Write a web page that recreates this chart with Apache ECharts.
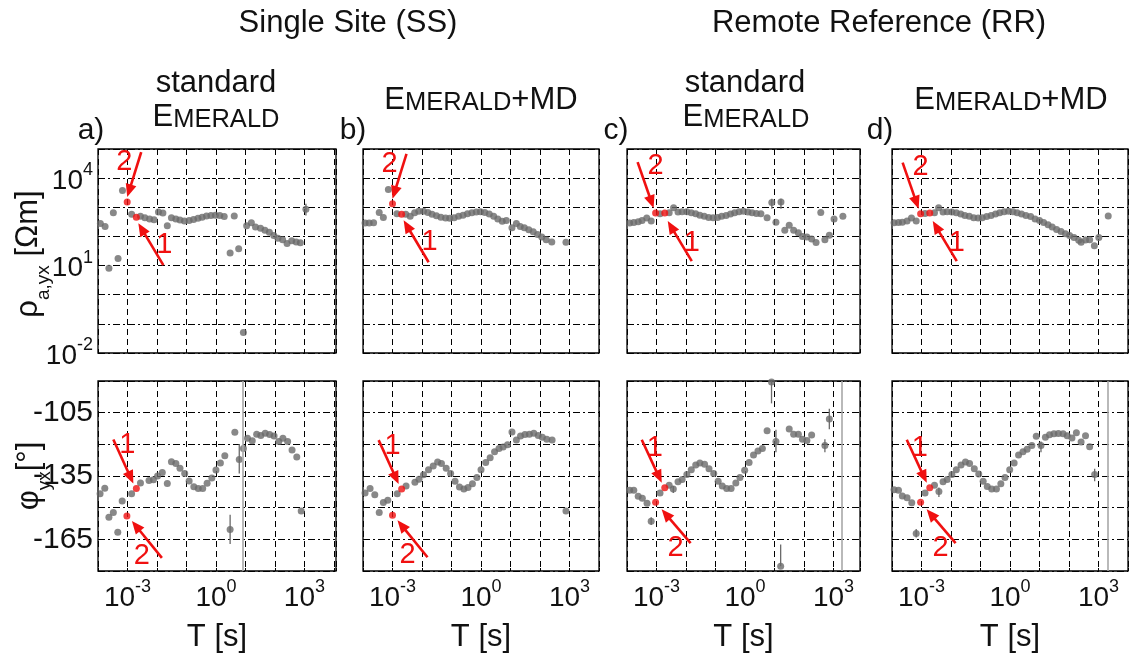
<!DOCTYPE html>
<html><head><meta charset="utf-8">
<script src="https://cdn.jsdelivr.net/npm/echarts@6/dist/echarts.min.js"></script>
<style>html,body{margin:0;padding:0;background:#fff}#c{width:1131px;height:654px}</style>
</head><body><div id="c"></div>
<script>
// ---------------- DATA (log10 T [s], log10 rho [Ohm m], phase [deg]) ----------------
// Panel a: Single Site, standard EMERALD
const aRhoT = [-3.92,-3.76,-3.63,-3.48,-3.32,-3.17,-2.86,-2.56,-2.41,-2.25,-2.10,-1.95,-1.80,-1.65,-1.51,-1.36,-1.22,-1.07,-0.91,-0.76,-0.61,-0.47,-0.32,-0.17,-0.02,0.13,0.28,0.48,0.62,0.77,0.93,1.04,1.20,1.34,1.51,1.66,1.81,1.96,2.10,2.26,2.41,2.57,2.72,2.86,3.05];
const aRho  = [2.44,2.34,0.91,2.81,1.24,3.58,2.76,2.69,2.64,2.60,2.57,2.84,2.80,2.37,2.64,2.60,2.56,2.53,2.55,2.58,2.62,2.66,2.70,2.72,2.73,2.72,2.68,1.43,2.70,1.58,-1.30,2.37,2.47,2.32,2.28,2.21,2.14,2.03,1.94,1.89,1.76,1.85,1.81,1.78,2.93];
const aPhiT = [-3.93,-3.77,-3.63,-3.48,-3.33,-3.18,-2.86,-2.56,-2.27,-2.12,-1.98,-1.82,-1.65,-1.51,-1.36,-1.22,-1.06,-0.91,-0.75,-0.60,-0.45,-0.30,-0.14,0.00,0.15,0.30,0.48,0.64,0.79,0.93,1.07,1.23,1.38,1.52,1.67,1.82,1.97,2.13,2.27,2.43,2.58,2.74,2.89];
const aPhi  = [-143.4,-140.8,-154.5,-152.3,-161.6,-146.8,-143.4,-138.3,-137.1,-136.8,-135.0,-133.3,-138.5,-128.3,-129.1,-131.3,-133.8,-137.4,-140.1,-140.9,-140.9,-138.4,-135.9,-132.2,-128.8,-125.4,-160.3,-114.3,-127.2,-122.0,-117.1,-118.3,-115.2,-115.8,-114.8,-115.4,-116.0,-118.7,-117.1,-118.7,-122.7,-126.0,-151.6];
const aRedRho = [[-2.70,2.66,1],[-3.01,3.18,2]];
const aRedPhi = [[-2.70,-140.9,1],[-3.02,-153.9,2]];
const aRhoErr = [[3.05,2.72,3.12]];
const aPhiErr = [[0.48,-167.2,-153.3],[0.79,-133.8,-119.9]];
const aPhiFull = [0.92];

// Panel b: Single Site, EMERALD+MD
const bRhoT = [-3.93,-3.79,-3.64,-3.45,-3.31,-3.14,-2.85,-2.55,-2.40,-2.25,-2.11,-1.95,-1.80,-1.66,-1.51,-1.36,-1.20,-1.06,-0.91,-0.76,-0.61,-0.46,-0.31,-0.16,-0.02,0.13,0.28,0.43,0.57,0.72,0.86,1.05,1.20,1.33,1.47,1.62,1.77,1.92,2.06,2.21,2.40,2.88];
const bRho  = [2.46,2.46,2.47,2.82,2.65,3.61,2.78,2.76,2.69,2.81,2.86,2.86,2.82,2.76,2.71,2.66,2.63,2.62,2.64,2.69,2.73,2.78,2.81,2.84,2.85,2.82,2.77,2.69,2.60,2.52,2.55,2.30,2.44,2.34,2.30,2.23,2.16,2.07,1.98,1.89,1.81,1.80];
const bPhiT = [-3.93,-3.76,-3.60,-3.45,-3.31,-3.16,-2.84,-2.54,-2.24,-2.10,-1.95,-1.78,-1.62,-1.47,-1.34,-1.18,-1.03,-0.88,-0.73,-0.58,-0.44,-0.29,-0.14,0.00,0.16,0.31,0.46,0.61,0.75,0.90,1.05,1.20,1.34,1.49,1.64,1.79,1.94,2.08,2.23,2.41,2.88];
const bPhi  = [-143.1,-140.9,-143.9,-152.3,-147.6,-146.5,-143.4,-139.7,-138.0,-136.5,-134.4,-132.0,-130.3,-128.4,-129.1,-131.3,-133.8,-137.5,-140.2,-141.2,-140.5,-138.7,-135.7,-132.0,-128.6,-126.4,-123.5,-122.0,-121.3,-120.2,-114.2,-117.9,-116.1,-115.3,-115.2,-114.8,-115.8,-116.7,-117.6,-117.9,-151.6];
const bRedRho = [[-2.69,2.76,1],[-3.00,3.12,2]];
const bRedPhi = [[-2.69,-141.2,1],[-3.00,-153.6,2]];
const bRhoErr = [];
const bPhiErr = [];
const bPhiFull = [];

// Panel c: Remote Reference, standard EMERALD
const cRhoT = [-3.91,-3.77,-3.62,-3.49,-3.33,-3.18,-2.88,-2.57,-2.42,-2.27,-2.13,-1.97,-1.82,-1.67,-1.53,-1.38,-1.23,-1.08,-0.93,-0.79,-0.64,-0.49,-0.35,-0.20,-0.05,0.10,0.24,0.39,0.54,0.75,0.91,1.05,1.22,1.35,1.50,1.65,1.81,1.95,2.10,2.26,2.41,2.57,2.71,2.86,3.02,3.32];
const cRho  = [2.46,2.48,2.50,2.55,2.63,2.53,2.78,2.81,2.98,2.84,2.85,2.85,2.81,2.78,2.73,2.69,2.65,2.64,2.65,2.69,2.72,2.77,2.81,2.85,2.86,2.84,2.81,2.79,2.78,2.64,3.16,2.49,3.18,2.21,2.38,2.21,2.13,2.00,1.98,1.91,1.79,2.82,1.89,2.04,2.60,2.69];
const cPhiT = [-3.91,-3.77,-3.62,-3.48,-3.32,-3.18,-2.88,-2.57,-2.43,-2.27,-2.13,-1.97,-1.82,-1.67,-1.53,-1.37,-1.22,-1.06,-0.91,-0.77,-0.62,-0.47,-0.31,-0.17,-0.01,0.14,0.29,0.44,0.59,0.75,0.90,1.05,1.21,1.50,1.65,1.81,1.95,2.10,2.26,2.71,2.86];
const cPhi  = [-141.7,-141.8,-144.6,-145.5,-147.9,-156.4,-143.0,-139.4,-141.2,-137.7,-136.6,-134.3,-132.0,-129.8,-128.8,-129.4,-131.6,-133.8,-137.5,-139.7,-140.9,-140.9,-138.3,-135.7,-132.3,-128.6,-125.0,-123.2,-122.0,-113.6,-90.5,-118.6,-177.7,-112.7,-115.2,-115.2,-117.6,-118.2,-115.6,-120.5,-108.0];
const cRedRho = [[-2.72,2.80,1],[-3.03,2.80,2]];
const cRedPhi = [[-2.72,-140.6,1],[-3.03,-147.4,2]];
const cRhoErr = [[0.91,2.95,3.29],[1.22,2.95,3.29]];
const cPhiErr = [[-3.18,-158.2,-154.5],[-2.43,-143.0,-139.7],[0.90,-100.6,-90.2],[1.05,-123.8,-113.1],[1.21,-177.7,-167.5],[2.71,-123.8,-117.6],[2.86,-112.8,-103.1]];
const cPhiFull = [3.29];

// Panel d: Remote Reference, EMERALD+MD
const dRhoT = [-3.93,-3.78,-3.65,-3.49,-3.34,-3.18,-2.88,-2.56,-2.42,-2.27,-2.13,-1.97,-1.82,-1.67,-1.53,-1.38,-1.23,-1.08,-0.94,-0.79,-0.64,-0.49,-0.35,-0.20,-0.05,0.10,0.24,0.39,0.54,0.70,0.85,1.00,1.14,1.29,1.43,1.58,1.73,1.88,2.02,2.17,2.33,2.41,2.56,2.70,2.86,3.01,3.33];
const dRho  = [2.47,2.48,2.49,2.53,2.63,2.53,2.79,2.81,2.98,2.84,2.85,2.84,2.81,2.77,2.72,2.69,2.64,2.63,2.64,2.68,2.72,2.77,2.81,2.85,2.86,2.85,2.81,2.77,2.72,2.68,2.60,2.55,2.48,2.40,2.32,2.24,2.17,2.09,2.03,1.96,1.87,1.80,1.88,1.89,1.68,1.96,2.70];
const dPhiT = [-3.93,-3.78,-3.65,-3.49,-3.33,-3.18,-2.88,-2.56,-2.41,-2.27,-2.13,-1.97,-1.82,-1.66,-1.51,-1.37,-1.21,-1.06,-0.91,-0.77,-0.62,-0.46,-0.31,-0.17,-0.01,0.14,0.29,0.44,0.58,0.74,0.89,1.05,1.20,1.34,1.49,1.64,1.80,1.94,2.10,2.25,2.41,2.56,2.70,2.87];
const dPhi  = [-141.5,-141.7,-144.5,-145.3,-147.7,-162.2,-143.0,-139.4,-142.4,-137.7,-136.6,-134.3,-132.0,-129.8,-128.4,-129.1,-131.6,-134.1,-137.5,-140.0,-141.2,-141.2,-138.7,-135.7,-132.0,-128.8,-125.0,-123.5,-122.3,-120.5,-116.2,-120.5,-116.7,-115.5,-115.0,-114.9,-115.0,-115.9,-117.0,-114.5,-118.9,-115.9,-121.1,-134.3];
const dRedRho = [[-2.72,2.80,1],[-3.03,2.78,2]];
const dRedPhi = [[-2.72,-140.6,1],[-3.03,-147.4,2]];
const dRhoErr = [];
const dPhiErr = [[-3.18,-164.1,-160.1],[-2.41,-144.9,-140.5],[1.05,-123.8,-118.7],[2.87,-137.5,-131.6]];
const dPhiFull = [3.32];

// tick labels
const xTickLabels = [-3, 0, 3];
const rhoTickLabels = [-2, 1, 4];
const phiTickLabels = [-105, -135, -165];

const groupTitles = ['Single Site (SS)', 'Remote Reference (RR)'];
const panelLetters = ['a)', 'b)', 'c)', 'd)'];

// ---------------- LAYOUT / STYLE ----------------
const FONT = '"Liberation Sans", Arial, Helvetica, sans-serif';
const GRAY = '#6a6a6a', RED = '#f01010', INK = '#111';

const panels = [
  {left: 98,  width: 238, xmax: 4.07, side: 'SS', rhoT: aRhoT, rho: aRho, phiT: aPhiT, phi: aPhi, redRho: aRedRho, redPhi: aRedPhi, rhoErr: aRhoErr, phiErr: aPhiErr, phiFull: aPhiFull},
  {left: 363, width: 236, xmax: 4.0,  side: 'SS', rhoT: bRhoT, rho: bRho, phiT: bPhiT, phi: bPhi, redRho: bRedRho, redPhi: bRedPhi, rhoErr: bRhoErr, phiErr: bPhiErr, phiFull: bPhiFull},
  {left: 627, width: 233, xmax: 3.9,  side: 'RR', rhoT: cRhoT, rho: cRho, phiT: cPhiT, phi: cPhi, redRho: cRedRho, redPhi: cRedPhi, rhoErr: cRhoErr, phiErr: cPhiErr, phiFull: cPhiFull},
  {left: 892, width: 236, xmax: 4.0,  side: 'RR', rhoT: dRhoT, rho: dRho, phiT: dPhiT, phi: dPhi, redRho: dRedRho, redPhi: dRedPhi, rhoErr: dRhoErr, phiErr: dPhiErr, phiFull: dPhiFull}
];
const rows = [
  {top: 149, height: 204, min: -2, max: 5, interval: 1, labels: rhoTickLabels, sup: true},
  {top: 381, height: 203, min: -180, max: -90, interval: 15, labels: phiTickLabels, sup: false}
];
// arrow annotation layouts: pixel offsets relative to the red point
const ARROWS = {
  SS0: {1: {start: [27, 48], tip: [2, 6], text: [28, 28]},  2: {start: [14, -50], tip: [0, -5], text: [-3, -40]}},
  SS1: {1: {start: [-23, -49], tip: [-3, -5], text: [-9, -43]}, 2: {start: [35, 42], tip: [5, 5], text: [15, 40]}},
  RR0: {1: {start: [27, 48], tip: [3, 8], text: [27, 30]},  2: {start: [-18, -51], tip: [-2, -5], text: [0, -47]}},
  RR1: {1: {start: [-23, -48], tip: [-3, -5], text: [-10, -40]}, 2: {start: [35, 41], tip: [6, 7], text: [20, 46]}}
};

const zip = (xs, ys) => xs.map((x, i) => [x, ys[i]]);
const supRich = {
  b: {fontSize: 28, fontFamily: FONT, color: INK, lineHeight: 34, verticalAlign: 'bottom'},
  s: {fontSize: 18, fontFamily: FONT, color: INK, lineHeight: 16, verticalAlign: 'top'}
};

function arrowRender(layout) {
  return function (params, api) {
    const p = api.coord([api.value(0), api.value(1)]);
    const lab = String(api.value(2));
    const L = layout[lab];
    const S = [p[0] + L.start[0], p[1] + L.start[1]];
    const T = [p[0] + L.tip[0], p[1] + L.tip[1]];
    const dx = T[0] - S[0], dy = T[1] - S[1];
    const len = Math.hypot(dx, dy), ux = dx / len, uy = dy / len;
    const hl = 13, hw = 5.5;
    const B = [T[0] - ux * hl, T[1] - uy * hl];
    return {
      type: 'group',
      children: [
        {type: 'line', shape: {x1: S[0], y1: S[1], x2: B[0] + ux * 2, y2: B[1] + uy * 2}, style: {stroke: RED, lineWidth: 2.6}},
        {type: 'polygon', shape: {points: [T, [B[0] - uy * hw, B[1] + ux * hw], [B[0] + uy * hw, B[1] - ux * hw]]}, style: {fill: RED}},
        {type: 'text', x: p[0] + L.text[0], y: p[1] + L.text[1],
          style: {text: lab, fill: RED, fontSize: 29, fontFamily: FONT, align: 'center', verticalAlign: 'middle'}}
      ]
    };
  };
}
function errRender(params, api) {
  const a = api.coord([api.value(0), api.value(1)]);
  const b = api.coord([api.value(0), api.value(2)]);
  return {type: 'line', shape: {x1: a[0], y1: a[1], x2: b[0], y2: b[1]}, style: {stroke: GRAY, lineWidth: 1.3}};
}

const grid = [], xAxis = [], yAxis = [], series = [];
rows.forEach((row, r) => {
  panels.forEach((pn, c) => {
    const gi = r * 4 + c;
    grid.push({left: pn.left, width: pn.width, top: row.top, height: row.height, show: true,
      borderColor: '#000', borderWidth: 1.3, backgroundColor: 'transparent'});
    xAxis.push({
      type: 'value', gridIndex: gi, min: -4, max: pn.xmax, interval: 1,
      axisLine: {show: false},
      axisTick: {show: true, inside: true, length: 3, lineStyle: {color: '#000'}},
      splitLine: {show: true, lineStyle: {color: '#000', width: 1, type: [6, 4]}},
      axisLabel: r === 1 ? {
        show: true, margin: 7, interval: 0, rich: supRich,
        formatter: v => xTickLabels.includes(Math.round(v)) && Math.abs(v - Math.round(v)) < 1e-6 ? '{b|10}{s|' + Math.round(v) + '}' : ''
      } : {show: false},
      name: r === 1 ? 'T [s]' : '', nameLocation: 'middle', nameGap: 51,
      nameTextStyle: {fontSize: 31, fontFamily: FONT, color: INK}
    });
    yAxis.push({
      type: 'value', gridIndex: gi, min: row.min, max: row.max, interval: row.interval,
      axisLine: {show: false},
      axisTick: {show: c === 0, inside: false, length: 4, lineStyle: {color: '#000'}},
      splitLine: {show: true, lineStyle: {color: '#000', width: 1, type: [7, 3, 2, 3]}},
      axisLabel: c === 0 ? {
        show: true, margin: 5, interval: 0, rich: supRich,
        fontSize: 30, fontFamily: FONT, color: INK,
        formatter: v => row.labels.includes(v) ? (row.sup ? '{b|10}{s|' + v + '}' : String(v)) : ''
      } : {show: false}
    });
    const T = r === 0 ? pn.rhoT : pn.phiT;
    const V = r === 0 ? pn.rho : pn.phi;
    const full = r === 1 ? pn.phiFull : [];
    series.push({
      type: 'scatter', xAxisIndex: gi, yAxisIndex: gi, data: zip(T, V),
      symbol: 'circle', symbolSize: 7, itemStyle: {color: GRAY}, z: 3, silent: true,
      markLine: full.length ? {silent: true, symbol: 'none', label: {show: false}, animation: false,
        lineStyle: {color: '#a8a8a8', width: 1.6, type: 'solid'}, data: full.map(x => ({xAxis: x}))} : undefined
    });
    const errs = r === 0 ? pn.rhoErr : pn.phiErr;
    if (errs.length) series.push({
      type: 'custom', xAxisIndex: gi, yAxisIndex: gi, data: errs, renderItem: errRender,
      encode: {x: 0, y: [1, 2]}, z: 2, silent: true
    });
    const red = r === 0 ? pn.redRho : pn.redPhi;
    series.push({
      type: 'scatter', xAxisIndex: gi, yAxisIndex: gi, data: red.map(d => [d[0], d[1]]),
      symbol: 'circle', symbolSize: 7, itemStyle: {color: RED}, z: 4, silent: true
    });
    series.push({
      type: 'custom', xAxisIndex: gi, yAxisIndex: gi, data: red, clip: false,
      renderItem: arrowRender(ARROWS[pn.side + r]), encode: {x: 0, y: 1}, z: 5, silent: true
    });
  });
});

const txt = (text, x, y, size, extra) => Object.assign({
  type: 'text', x: x, y: y, silent: true,
  style: {text: text, fill: INK, fontSize: size, fontFamily: FONT, align: 'center', verticalAlign: 'middle'}
}, extra || {});
const emerald = (x, y, md) => ({
  type: 'text', x: x, y: y, silent: true,
  style: {
    text: '{E|E}{m|MERALD}' + (md ? '{E|+MD}' : ''), align: 'center', verticalAlign: 'middle', fill: INK,
    rich: {
      E: {fontSize: 31, fontFamily: FONT, fill: INK, lineHeight: 36, verticalAlign: 'bottom'},
      m: {fontSize: 25.5, fontFamily: FONT, fill: INK, lineHeight: 30, verticalAlign: 'bottom'}
    }
  }
});

const graphic = [
  txt(groupTitles[0], 348, 23, 31),
  txt(groupTitles[1], 879, 23, 31),
  txt('standard', 216, 83, 31), emerald(216, 115, false),
  emerald(481, 98, true),
  txt('standard', 745, 83, 31), emerald(746, 115, false),
  emerald(1011, 98, true),
  txt(panelLetters[0], 91, 131, 30), txt(panelLetters[1], 353, 131, 30),
  txt(panelLetters[2], 616, 131, 30), txt(panelLetters[3], 880, 131, 30),
  {type: 'text', x: 33, y: 254, rotation: Math.PI / 2, silent: true,
    style: {text: '{r|ρ}{u|a,yx}{r| [Ωm]}', align: 'center', verticalAlign: 'middle', fill: INK,
      rich: {r: {fontSize: 31, fontFamily: FONT, fill: INK, lineHeight: 40, verticalAlign: 'top'},
             u: {fontSize: 19, fontFamily: FONT, fill: INK, lineHeight: 19, verticalAlign: 'bottom'}}}},
  {type: 'text', x: 34, y: 476, rotation: Math.PI / 2, silent: true,
    style: {text: '{r|φ}{u|yx}{r|[°]}', align: 'center', verticalAlign: 'middle', fill: INK,
      rich: {r: {fontSize: 31, fontFamily: FONT, fill: INK, lineHeight: 40, verticalAlign: 'top'},
             u: {fontSize: 19, fontFamily: FONT, fill: INK, lineHeight: 19, verticalAlign: 'bottom'}}}}
];

const chart = echarts.init(document.getElementById('c'), null, {renderer: 'canvas'});
chart.setOption({
  animation: false,
  backgroundColor: '#fff',
  textStyle: {fontFamily: FONT},
  grid: grid, xAxis: xAxis, yAxis: yAxis, series: series, graphic: graphic
});
</script></body></html>
